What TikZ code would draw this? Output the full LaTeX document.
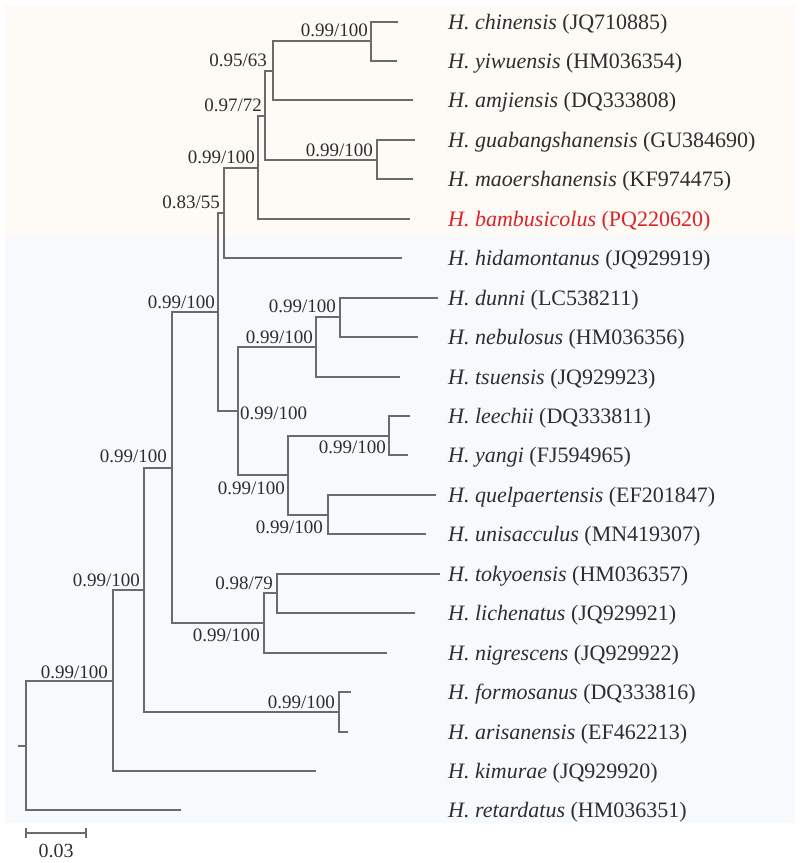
\documentclass[tikz,border=0pt]{standalone}
\usepackage{fontspec}
\setmainfont{Liberation Serif}
\usepackage{tikz}
\usetikzlibrary{positioning}
\usepackage{xcolor}
\definecolor{peachbg}{HTML}{FEFAF6}
\definecolor{bluebg}{HTML}{F7FAFC}
\definecolor{branchgray}{HTML}{6B6B6B}
\definecolor{textgray}{HTML}{2E2E2E}
\definecolor{newred}{HTML}{DC2328}

\begin{document}
\begin{tikzpicture}[x=1pt, y=-1pt,
  branch/.style={draw=branchgray, line width=1.3pt},
  leaf/.style={anchor=west, inner sep=0pt, text depth=0pt, text=textgray, font=\fontsize{22}{24}\selectfont},
  supup/.style={anchor=east, inner sep=0pt, text=textgray, font=\fontsize{19}{21}\selectfont},
  supright/.style={anchor=west, inner sep=0pt, text=textgray, font=\fontsize{19}{21}\selectfont}]

  % Background
  \useasboundingbox (0,0) rectangle (800,863);
  \fill[peachbg] (5,5) rectangle (795,237);
  \fill[bluebg] (5,237) rectangle (795,823);

  % Tips
  \coordinate (tchi) at (398,22);
  \coordinate (tyiw) at (397,61);
  \coordinate (tamj) at (413,100);
  \coordinate (tgua) at (415,140);
  \coordinate (tmao) at (413,179);
  \coordinate (tbam) at (410,219);
  \coordinate (thid) at (402,258);
  \coordinate (tdun) at (438,298);
  \coordinate (tneb) at (418,337);
  \coordinate (ttsu) at (400,377);
  \coordinate (tlee) at (410,416);
  \coordinate (tyan) at (408,455);
  \coordinate (tque) at (436,495);
  \coordinate (tuni) at (426,534);
  \coordinate (ttok) at (440,574);
  \coordinate (tlic) at (415,613);
  \coordinate (tnig) at (387,653);
  \coordinate (tfor) at (351,692);
  \coordinate (tari) at (348,732);
  \coordinate (tkim) at (316,771);
  \coordinate (tret) at (181,810);

  % Internal nodes
  \coordinate (root) at (26,746);
  \coordinate (nP) at (113,681);
  \coordinate (nN) at (144,590);
  \coordinate (nK) at (172,468);
  \coordinate (nO) at (339,712);
  \coordinate (nD) at (218,312);
  \coordinate (nL) at (264,623);
  \coordinate (nM) at (277,593);
  \coordinate (nC) at (224,213);
  \coordinate (nE) at (238,411);
  \coordinate (nF) at (316,347);
  \coordinate (nG) at (340,317);
  \coordinate (nH) at (288,475);
  \coordinate (nI) at (389,436);
  \coordinate (nJ) at (328,515);
  \coordinate (nB) at (258,168);
  \coordinate (nA) at (265,116);
  \coordinate (nQ) at (273,71);
  \coordinate (nR) at (377,160);
  \coordinate (nS) at (371,41);
  \coordinate (stub) at (18,746);

  % Branches
  \draw[branch] (stub) -- (root);
  \draw[branch] (root) |- (nP);
  \draw[branch] (root) |- (tret);
  \draw[branch] (nP) |- (nN);
  \draw[branch] (nP) |- (tkim);
  \draw[branch] (nN) |- (nK);
  \draw[branch] (nN) |- (nO);
  \draw[branch] (nO) |- (tfor);
  \draw[branch] (nO) |- (tari);
  \draw[branch] (nK) |- (nD);
  \draw[branch] (nK) |- (nL);
  \draw[branch] (nL) |- (nM);
  \draw[branch] (nL) |- (tnig);
  \draw[branch] (nM) |- (ttok);
  \draw[branch] (nM) |- (tlic);
  \draw[branch] (nD) |- (nC);
  \draw[branch] (nD) |- (nE);
  \draw[branch] (nE) |- (nF);
  \draw[branch] (nE) |- (nH);
  \draw[branch] (nF) |- (nG);
  \draw[branch] (nF) |- (ttsu);
  \draw[branch] (nG) |- (tdun);
  \draw[branch] (nG) |- (tneb);
  \draw[branch] (nH) |- (nI);
  \draw[branch] (nH) |- (nJ);
  \draw[branch] (nI) |- (tlee);
  \draw[branch] (nI) |- (tyan);
  \draw[branch] (nJ) |- (tque);
  \draw[branch] (nJ) |- (tuni);
  \draw[branch] (nC) |- (nB);
  \draw[branch] (nC) |- (thid);
  \draw[branch] (nB) |- (nA);
  \draw[branch] (nB) |- (tbam);
  \draw[branch] (nA) |- (nQ);
  \draw[branch] (nA) |- (nR);
  \draw[branch] (nQ) |- (nS);
  \draw[branch] (nQ) |- (tamj);
  \draw[branch] (nS) |- (tchi);
  \draw[branch] (nS) |- (tyiw);
  \draw[branch] (nR) |- (tgua);
  \draw[branch] (nR) |- (tmao);

  % Support values
  \node[supup] (lS) at ([shift={(-3,-11)}]nS) {0.99/100};
  \node[supup] (lQ) at ([shift={(-6,-11)}]nQ) {0.95/63};
  \node[supup] (lA) at ([shift={(-3,-11)}]nA) {0.97/72};
  \node[supup] (lR) at ([shift={(-4,-10)}]nR) {0.99/100};
  \node[supup] (lB) at ([shift={(-3,-11)}]nB) {0.99/100};
  \node[supup] (lC) at ([shift={(-4,-11)}]nC) {0.83/55};
  \node[supup] (lD) at ([shift={(-3,-10)}]nD) {0.99/100};
  \node[supup] (lG) at ([shift={(-4,-11)}]nG) {0.99/100};
  \node[supup] (lF) at ([shift={(-3,-10)}]nF) {0.99/100};
  \node[supright] (lE) at ([shift={(2,2)}]nE) {0.99/100};
  \node[supup] (lI) at ([shift={(-3,11)}]nI) {0.99/100};
  \node[supup] (lH) at ([shift={(-3,13)}]nH) {0.99/100};
  \node[supup] (lJ) at ([shift={(-5,12)}]nJ) {0.99/100};
  \node[supup] (lK) at ([shift={(-5,-12)}]nK) {0.99/100};
  \node[supup] (lM) at ([shift={(-4,-10)}]nM) {0.98/79};
  \node[supup] (lL) at ([shift={(-4,12)}]nL) {0.99/100};
  \node[supup] (lN) at ([shift={(-4,-10)}]nN) {0.99/100};
  \node[supup] (lO) at ([shift={(-4,-10)}]nO) {0.99/100};
  \node[supup] (lP) at ([shift={(-5,-9)}]nP) {0.99/100};

  % Taxa
  \node[leaf] (chi) at (448,22) {\textit{H. chinensis} (JQ710885)};
  \node[leaf] (yiw) at (448,61) {\textit{H. yiwuensis} (HM036354)};
  \node[leaf] (amj) at (448,100) {\textit{H. amjiensis} (DQ333808)};
  \node[leaf] (gua) at (448,140) {\textit{H. guabangshanensis} (GU384690)};
  \node[leaf] (mao) at (448,179) {\textit{H. maoershanensis} (KF974475)};
  \node[leaf, text=newred] (bam) at (448,219) {\textit{H. bambusicolus} (PQ220620)};
  \node[leaf] (hid) at (448,258) {\textit{H. hidamontanus} (JQ929919)};
  \node[leaf] (dun) at (448,298) {\textit{H. dunni} (LC538211)};
  \node[leaf] (neb) at (448,337) {\textit{H. nebulosus} (HM036356)};
  \node[leaf] (tsu) at (448,377) {\textit{H. tsuensis} (JQ929923)};
  \node[leaf] (lee) at (448,416) {\textit{H. leechii} (DQ333811)};
  \node[leaf] (yan) at (448,455) {\textit{H. yangi} (FJ594965)};
  \node[leaf] (que) at (448,495) {\textit{H. quelpaertensis} (EF201847)};
  \node[leaf] (uni) at (448,534) {\textit{H. unisacculus} (MN419307)};
  \node[leaf] (tok) at (448,574) {\textit{H. tokyoensis} (HM036357)};
  \node[leaf] (lic) at (448,613) {\textit{H. lichenatus} (JQ929921)};
  \node[leaf] (nig) at (448,653) {\textit{H. nigrescens} (JQ929922)};
  \node[leaf] (for) at (448,692) {\textit{H. formosanus} (DQ333816)};
  \node[leaf] (ari) at (448,732) {\textit{H. arisanensis} (EF462213)};
  \node[leaf] (kim) at (448,771) {\textit{H. kimurae} (JQ929920)};
  \node[leaf] (ret) at (448,810) {\textit{H. retardatus} (HM036351)};

  % Scale bar
  \coordinate (sbl) at (26,833);
  \coordinate (sbr) at (86,833);
  \draw[branch] (sbl) -- (sbr);
  \draw[branch] ([yshift=-5]sbl) -- ([yshift=5]sbl);
  \draw[branch] ([yshift=-5]sbr) -- ([yshift=5]sbr);
  \node[supup, anchor=center, font=\fontsize{20}{22}\selectfont] (sblabel) at (56,851) {0.03};

\end{tikzpicture}
\end{document}
